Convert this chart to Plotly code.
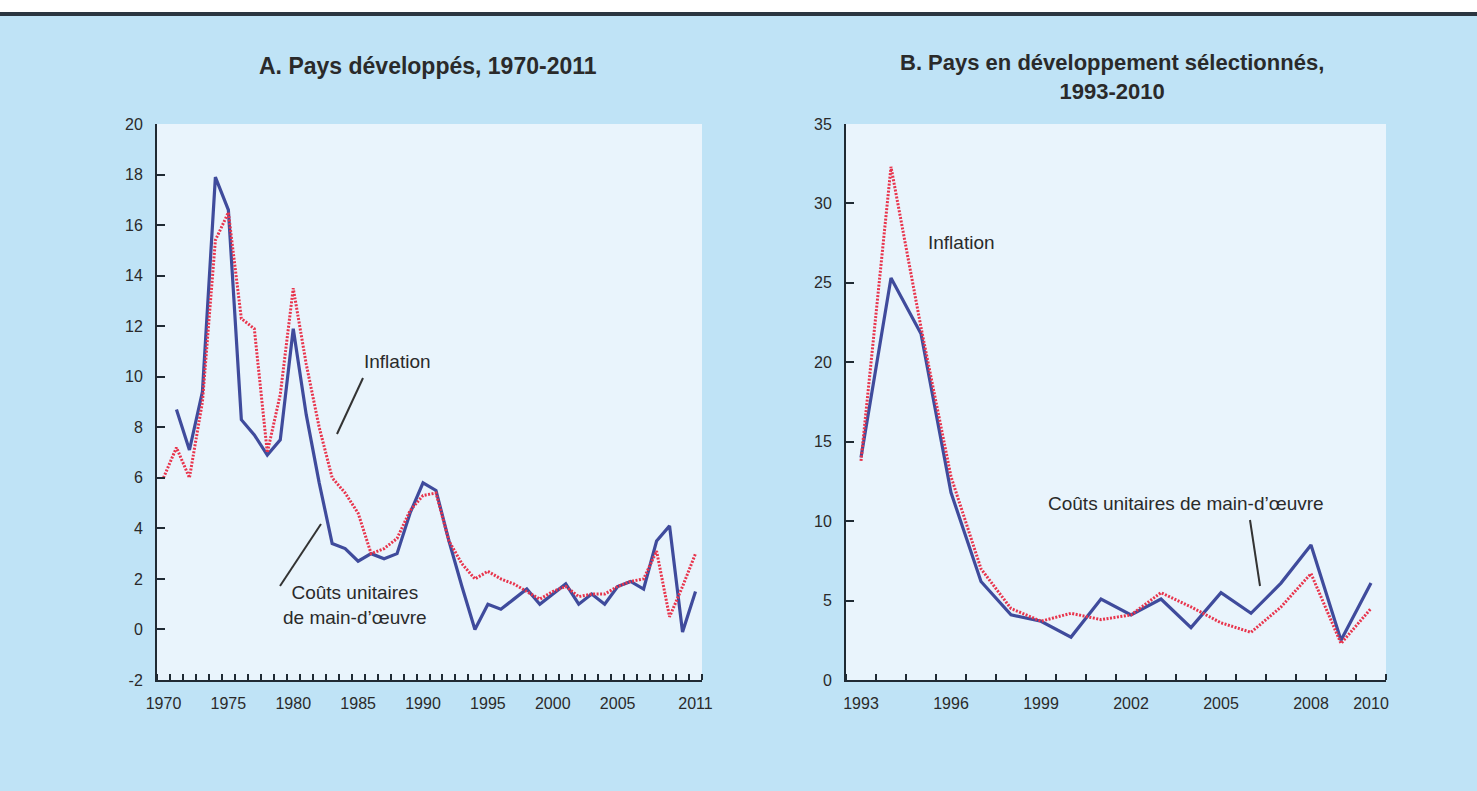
import plotly.graph_objects as go

# ---------------- data ----------------
years_a = list(range(1970, 2012))
ulc_a = [None, 8.7, 7.1, 9.4, 17.9, 16.6, 8.3, 7.7, 6.9, 7.5,
         11.9, 8.5, 5.8, 3.4, 3.2, 2.7, 3.0, 2.8, 3.0, 4.6,
         5.8, 5.5, 3.5, 1.7, 0.0, 1.0, 0.8, 1.2, 1.6, 1.0,
         1.4, 1.8, 1.0, 1.4, 1.0, 1.7, 1.9, 1.6, 3.5, 4.1,
         -0.1, 1.5]
infl_a = [6.0, 7.2, 6.0, 9.0, 15.4, 16.5, 12.3, 11.9, 7.0, 9.3,
          13.5, 10.5, 8.0, 6.0, 5.4, 4.6, 3.0, 3.2, 3.6, 4.7,
          5.3, 5.4, 3.5, 2.6, 2.0, 2.3, 2.0, 1.8, 1.5, 1.2,
          1.5, 1.7, 1.3, 1.4, 1.4, 1.7, 1.9, 2.0, 3.1, 0.5,
          1.7, 3.0]

years_b = list(range(1993, 2011))
ulc_b = [14.0, 25.3, 21.8, 11.8, 6.2, 4.1, 3.7, 2.7, 5.1, 4.1,
         5.1, 3.3, 5.5, 4.2, 6.1, 8.5, 2.5, 6.1]
infl_b = [13.8, 32.3, 22.2, 12.8, 7.0, 4.5, 3.7, 4.2, 3.8, 4.1,
          5.5, 4.6, 3.6, 3.0, 4.6, 6.7, 2.3, 4.5]

ticks_a = [1970, 1975, 1980, 1985, 1990, 1995, 2000, 2005, 2011]
ticks_b = [1993, 1996, 1999, 2002, 2005, 2008, 2010]
yticks_a = list(range(-2, 21, 2))
yticks_b = list(range(0, 36, 5))

title_a = "A. Pays développés, 1970-2011"
title_b = "B. Pays en développement sélectionnés,<br>1993-2010"
lbl_infl = "Inflation"
lbl_ulc_a = "Coûts unitaires<br>de main-d’œuvre"
lbl_ulc_b = "Coûts unitaires de main-d’œuvre"

# ---------------- style ----------------
W, H = 1477, 791
BG = "#bfe3f6"
PLOT_BG = "#e9f4fc"
BLUE = "#3f4b9c"
RED = "#e8344c"
AX = "#1f2a33"
TXT = "#2a2a2a"
FONT = "Liberation Sans, Arial, sans-serif"

def px_x(p):
    return p / W

def px_y(p):
    return 1 - p / H

fig = go.Figure()

fig.add_trace(go.Scatter(x=years_a, y=ulc_a, mode="lines", xaxis="x", yaxis="y",
                         line=dict(color=BLUE, width=3.2), showlegend=False))
fig.add_trace(go.Scatter(x=years_a, y=infl_a, mode="lines", xaxis="x", yaxis="y",
                         line=dict(color=RED, width=3, dash="2px,1.5px"), showlegend=False))
fig.add_trace(go.Scatter(x=years_b, y=ulc_b, mode="lines", xaxis="x2", yaxis="y2",
                         line=dict(color=BLUE, width=3.2), showlegend=False))
fig.add_trace(go.Scatter(x=years_b, y=infl_b, mode="lines", xaxis="x2", yaxis="y2",
                         line=dict(color=RED, width=3, dash="2px,1.5px"), showlegend=False))

tickfont = dict(family=FONT, size=16, color=TXT)

def xaxis(years, tv, dom, anchor):
    half = [y - 0.5 for y in years] + [years[-1] + 0.5]
    return dict(domain=dom, anchor=anchor, range=[years[0] - 0.5, years[-1] + 0.5],
                tickmode="array", tickvals=tv, ticktext=[str(t) for t in tv],
                ticks="", showgrid=False, zeroline=False, automargin=False,
                showline=True, linecolor=AX, linewidth=2,
                tickfont=tickfont, ticklabelstandoff=8,
                minor=dict(tickmode="array", tickvals=half, ticks="inside",
                           ticklen=6, tickwidth=2, tickcolor=AX, showgrid=False))

def yaxis(tv, rng, dom, anchor):
    return dict(domain=dom, anchor=anchor, range=rng, tickmode="array", tickvals=tv,
                ticktext=[str(v) for v in tv],
                ticks="inside", ticklen=8, tickwidth=2, tickcolor=AX, automargin=False,
                showgrid=False, zeroline=False, showline=True, linecolor=AX, linewidth=2,
                tickfont=tickfont, ticklabelstandoff=9)

ydom = [px_y(680), px_y(124)]
fig.update_layout(
    width=W, height=H, paper_bgcolor=BG, plot_bgcolor=PLOT_BG,
    margin=dict(l=0, r=0, t=0, b=0, pad=0),
    xaxis=xaxis(years_a, ticks_a, [px_x(157), px_x(702)], "y"),
    yaxis=yaxis(yticks_a, [-2, 20], ydom, "x"),
    xaxis2=xaxis(years_b, ticks_b, [px_x(846), px_x(1386)], "y2"),
    yaxis2=yaxis(yticks_b, [0, 35], ydom, "x2"),
    font=dict(family=FONT, color=TXT),
)

shapes = [
    dict(type="rect", xref="paper", yref="paper", x0=0, x1=1, y0=px_y(12), y1=1,
         fillcolor="white", line=dict(width=0), layer="above"),
    dict(type="line", xref="paper", yref="paper", x0=0, x1=1, y0=px_y(14), y1=px_y(14),
         line=dict(color="#2b3640", width=4), layer="above"),
    # pointer lines
    dict(type="line", xref="paper", yref="paper", x0=px_x(363), y0=px_y(378),
         x1=px_x(337), y1=px_y(434), line=dict(color="#333", width=2)),
    dict(type="line", xref="paper", yref="paper", x0=px_x(321), y0=px_y(524),
         x1=px_x(280), y1=px_y(586), line=dict(color="#333", width=2)),
    dict(type="line", xref="paper", yref="paper", x0=px_x(1250), y0=px_y(520),
         x1=px_x(1260), y1=px_y(586), line=dict(color="#333", width=2)),
]
fig.update_layout(shapes=shapes)

anns = [
    dict(text="<b>" + title_a + "</b>", x=px_x(428), y=px_y(66), size=23),
    dict(text="<b>" + title_b + "</b>", x=px_x(1112), y=px_y(77), size=22),
    dict(text=lbl_infl, x=px_x(397), y=px_y(362)),
    dict(text=lbl_ulc_a, x=px_x(355), y=px_y(605)),
    dict(text=lbl_infl, x=px_x(961), y=px_y(242)),
    dict(text=lbl_ulc_b, x=px_x(1186), y=px_y(503)),
]
for a in anns:
    size = a.pop("size", 19)
    fig.add_annotation(xref="paper", yref="paper", showarrow=False,
                       xanchor="center", yanchor="middle",
                       font=dict(family=FONT, size=size, color=TXT), **a)

fig.write_html("out.html", config={"displayModeBar": False},
               post_script="document.body.style.margin='0';document.body.style.overflow='hidden';")
